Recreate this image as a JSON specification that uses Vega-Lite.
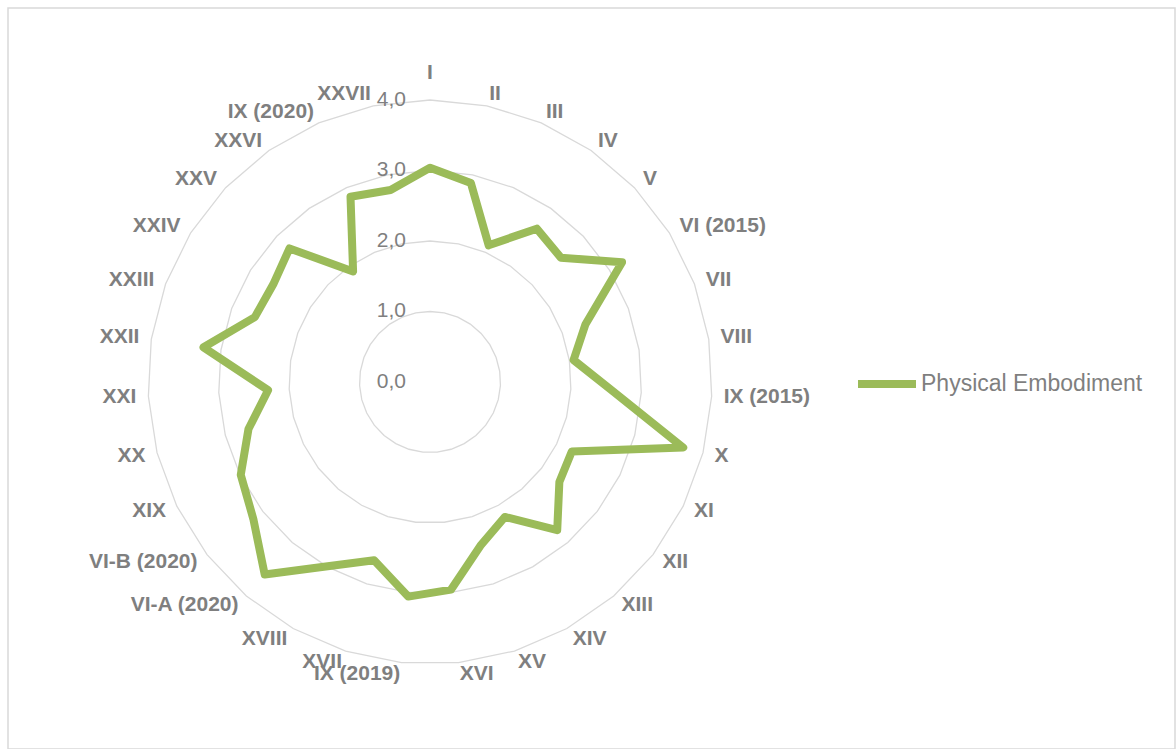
{
  "$schema": "https://vega.github.io/schema/vega-lite/v6.json",
  "autosize": {"type": "fit", "contains": "padding"},
  "width": 1176,
  "height": 749,
  "padding": {"left": 8, "top": 8, "right": 1, "bottom": 0},
  "background": "white",
  "config": {
    "view": {"stroke": "#d9d9d9", "strokeWidth": 1.5},
    "font": "Liberation Sans"
  },
  "datasets": {
    "cats": [
      {"cat": "I", "v": 3.04, "series": "Physical Embodiment"},
      {"cat": "II", "v": 2.88, "series": "Physical Embodiment"},
      {"cat": "III", "v": 2.11, "series": "Physical Embodiment"},
      {"cat": "IV", "v": 2.65, "series": "Physical Embodiment"},
      {"cat": "V", "v": 2.56, "series": "Physical Embodiment"},
      {"cat": "VI (2015)", "v": 3.21, "series": "Physical Embodiment"},
      {"cat": "VII", "v": 2.35, "series": "Physical Embodiment"},
      {"cat": "VIII", "v": 2.06, "series": "Physical Embodiment"},
      {"cat": "IX (2015)", "v": 2.6, "series": "Physical Embodiment"},
      {"cat": "X", "v": 3.71, "series": "Physical Embodiment"},
      {"cat": "XI", "v": 2.24, "series": "Physical Embodiment"},
      {"cat": "XII", "v": 2.32, "series": "Physical Embodiment"},
      {"cat": "XIII", "v": 2.77, "series": "Physical Embodiment"},
      {"cat": "XIV", "v": 2.19, "series": "Physical Embodiment"},
      {"cat": "XV", "v": 2.42, "series": "Physical Embodiment"},
      {"cat": "XVI", "v": 2.96, "series": "Physical Embodiment"},
      {"cat": "IX (2019)", "v": 3.06, "series": "Physical Embodiment"},
      {"cat": "XVII", "v": 2.65, "series": "Physical Embodiment"},
      {"cat": "XVIII", "v": 2.99, "series": "Physical Embodiment"},
      {"cat": "VI-A (2020)", "v": 3.6, "series": "Physical Embodiment"},
      {"cat": "VI-B (2020)", "v": 3.17, "series": "Physical Embodiment"},
      {"cat": "XIX", "v": 2.99, "series": "Physical Embodiment"},
      {"cat": "XX", "v": 2.66, "series": "Physical Embodiment"},
      {"cat": "XXI", "v": 2.3, "series": "Physical Embodiment"},
      {"cat": "XXII", "v": 3.25, "series": "Physical Embodiment"},
      {"cat": "XXIII", "v": 2.65, "series": "Physical Embodiment"},
      {"cat": "XXIV", "v": 2.62, "series": "Physical Embodiment"},
      {"cat": "XXV", "v": 2.75, "series": "Physical Embodiment"},
      {"cat": "XXVI", "v": 1.91, "series": "Physical Embodiment"},
      {"cat": "IX (2020)", "v": 2.86, "series": "Physical Embodiment"},
      {"cat": "XXVII", "v": 2.78, "series": "Physical Embodiment"}
    ],
    "ticks": [
      {"t": 0, "label": "0,0"},
      {"t": 1, "label": "1,0"},
      {"t": 2, "label": "2,0"},
      {"t": 3, "label": "3,0"},
      {"t": 4, "label": "4,0"}
    ]
  },
  "layer": [
    {
      "data": {"name": "cats"},
      "transform": [
        {"window": [{"op": "row_number", "as": "idx"}]},
        {"calculate": "2*PI*(datum.idx-1)/31", "as": "a"},
        {"calculate": "[1,2,3,4]", "as": "lv"},
        {"flatten": ["lv"]},
        {"calculate": "datum.lv*sin(datum.a)", "as": "gx"},
        {"calculate": "datum.lv*cos(datum.a)", "as": "gy"}
      ],
      "mark": {"type": "line", "interpolate": "linear-closed", "stroke": "#d9d9d9", "strokeWidth": 1.3},
      "encoding": {
        "x": {"field": "gx", "type": "quantitative", "scale": {"domain": [-5.986, 10.567], "nice": false, "zero": false}, "axis": null},
        "y": {"field": "gy", "type": "quantitative", "scale": {"domain": [-5.206, 5.305], "nice": false, "zero": false}, "axis": null},
        "detail": {"field": "lv", "type": "nominal"},
        "order": {"field": "idx", "type": "quantitative"}
      }
    },
    {
      "data": {"name": "ticks"},
      "transform": [{"calculate": "0", "as": "tx"}],
      "mark": {"type": "text", "align": "right", "baseline": "middle", "dx": -24, "fontSize": 21, "color": "#7f7f7f"},
      "encoding": {
        "x": {"field": "tx", "type": "quantitative"},
        "y": {"field": "t", "type": "quantitative"},
        "text": {"field": "label"}
      }
    },
    {
      "data": {"name": "cats"},
      "transform": [
        {"window": [{"op": "row_number", "as": "idx"}]},
        {"calculate": "2*PI*(datum.idx-1)/31", "as": "a"},
        {"calculate": "datum.v*sin(datum.a)", "as": "px"},
        {"calculate": "datum.v*cos(datum.a)", "as": "py"}
      ],
      "mark": {"type": "line", "interpolate": "linear-closed", "strokeWidth": 8, "strokeJoin": "round", "strokeCap": "round"},
      "encoding": {
        "x": {"field": "px", "type": "quantitative"},
        "y": {"field": "py", "type": "quantitative"},
        "order": {"field": "idx", "type": "quantitative"},
        "color": {
          "field": "series", "type": "nominal",
          "scale": {"domain": ["Physical Embodiment"], "range": ["#9bbb59"]},
          "legend": {
            "orient": "none", "legendX": 846, "legendY": 343,
            "title": null, "symbolType": "stroke", "symbolSize": 3364,
            "symbolStrokeWidth": 8, "labelFontSize": 23, "labelColor": "#7f7f7f",
            "labelFont": "Liberation Sans", "labelOffset": 1, "labelLimit": 500, "padding": 0
          }
        }
      }
    },
    {
      "data": {"name": "cats"},
      "transform": [
        {"window": [{"op": "row_number", "as": "idx"}]},
        {"calculate": "2*PI*(datum.idx-1)/31", "as": "a"},
        {"filter": "sin(datum.a) > 0.01"},
        {"calculate": "4.17*sin(datum.a)", "as": "lx"},
        {"calculate": "4.17*cos(datum.a)", "as": "ly"}
      ],
      "mark": {"type": "text", "align": "left", "baseline": "middle", "fontSize": 21, "fontWeight": "bold", "color": "#7f7f7f"},
      "encoding": {
        "x": {"field": "lx", "type": "quantitative"},
        "y": {"field": "ly", "type": "quantitative"},
        "text": {"field": "cat"}
      }
    },
    {
      "data": {"name": "cats"},
      "transform": [
        {"window": [{"op": "row_number", "as": "idx"}]},
        {"calculate": "2*PI*(datum.idx-1)/31", "as": "a"},
        {"filter": "sin(datum.a) < -0.01"},
        {"calculate": "4.17*sin(datum.a)", "as": "lx"},
        {"calculate": "4.17*cos(datum.a)", "as": "ly"}
      ],
      "mark": {"type": "text", "align": "right", "baseline": "middle", "fontSize": 21, "fontWeight": "bold", "color": "#7f7f7f"},
      "encoding": {
        "x": {"field": "lx", "type": "quantitative"},
        "y": {"field": "ly", "type": "quantitative"},
        "text": {"field": "cat"}
      }
    },
    {
      "data": {"name": "cats"},
      "transform": [
        {"window": [{"op": "row_number", "as": "idx"}]},
        {"filter": "datum.idx == 1"},
        {"calculate": "0", "as": "lx"},
        {"calculate": "4.17", "as": "ly"}
      ],
      "mark": {"type": "text", "align": "center", "baseline": "middle", "dy": -15, "fontSize": 21, "fontWeight": "bold", "color": "#7f7f7f"},
      "encoding": {
        "x": {"field": "lx", "type": "quantitative"},
        "y": {"field": "ly", "type": "quantitative"},
        "text": {"field": "cat"}
      }
    }
  ]
}
